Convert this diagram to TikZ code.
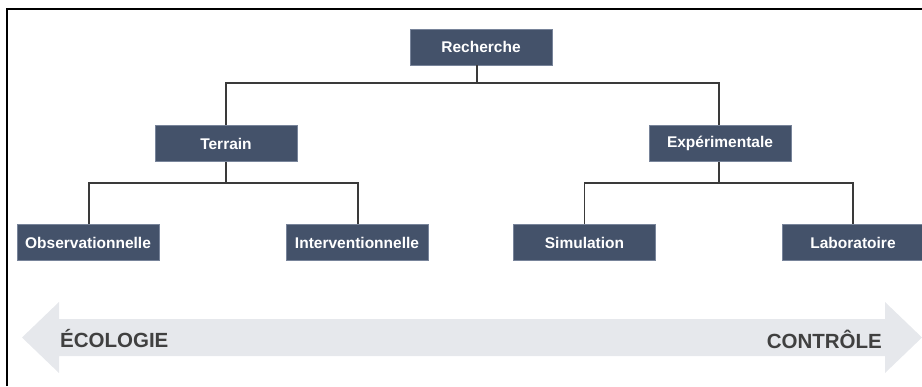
\documentclass[tikz,border=0pt]{standalone}
\usepackage{fontspec}
\setmainfont{Liberation Sans}
\usetikzlibrary{calc}
\definecolor{boxfill}{RGB}{68,82,106}
\definecolor{boxedge}{RGB}{120,132,154}
\definecolor{linkgray}{RGB}{58,58,58}
\definecolor{arrowgray}{RGB}{230,232,236}
\definecolor{labelgray}{RGB}{64,64,64}
\tikzset{
  catbox/.style={draw=boxedge, line width=0.6pt, fill=boxfill, text=white,
    minimum width=142pt, minimum height=36pt, inner sep=0pt,
    font=\fontsize{15.5}{18}\selectfont\bfseries},
  link/.style={draw=linkgray, line width=1.5pt},
  axislabel/.style={text=labelgray, inner sep=0pt,
    font=\fontsize{20.5}{24}\selectfont\bfseries},
}
\begin{document}
\begin{tikzpicture}[x=1pt, y=-1pt]
\useasboundingbox (0,0) rectangle (922,386);
\clip (0,0) rectangle (922,386);

% outer frame (left and top edges)
\draw[line width=1.6pt] (7,386) -- (7,9) -- (922,9);

% double-headed axis arrow
\fill[arrowgray] (22,337.5) -- (59,302) -- (59,319) -- (885,319) -- (885,302)
  -- (922,337.5) -- (885,373) -- (885,356) -- (59,356) -- (59,373) -- cycle;
\node[axislabel, anchor=west] (eco) at (60,339) {ÉCOLOGIE};
\node[axislabel, anchor=east] (ctl) at (882,339) {CONTRÔLE};

% tree nodes
\node[catbox] (rech) at (481,47) {Recherche};
\node[catbox] (terr) at (226,143.5) {Terrain};
\node[catbox] (expe) at (720,143.5) {Expérimentale};
\node[catbox] (obs)  at (88,242.5) {Observationnelle};
\node[catbox] (intv) at (357,242.5) {Interventionnelle};
\node[catbox] (simu) at (584.5,242.5) {Simulation};
\node[catbox] (labo) at (853,242.5) {Laboratoire};

% bus points
\coordinate (bus0) at (477,83);
\coordinate (bus1) at (226,183);
\coordinate (bus2) at (719,183);

% connectors
\draw[link] (rech.south -| bus0) -- (bus0);
\draw[link] (terr.north) |- (bus0) -| (expe.north -| bus2);
\draw[link] (terr.south) -- (bus1);
\draw[link] (obs.north -| 89,0) |- (bus1) -| (intv.north -| 358,0);
\draw[link] (expe.south -| bus2) -- (bus2);
\draw[link] (simu.north) |- (bus2) -| (labo.north);
\end{tikzpicture}
\end{document}
